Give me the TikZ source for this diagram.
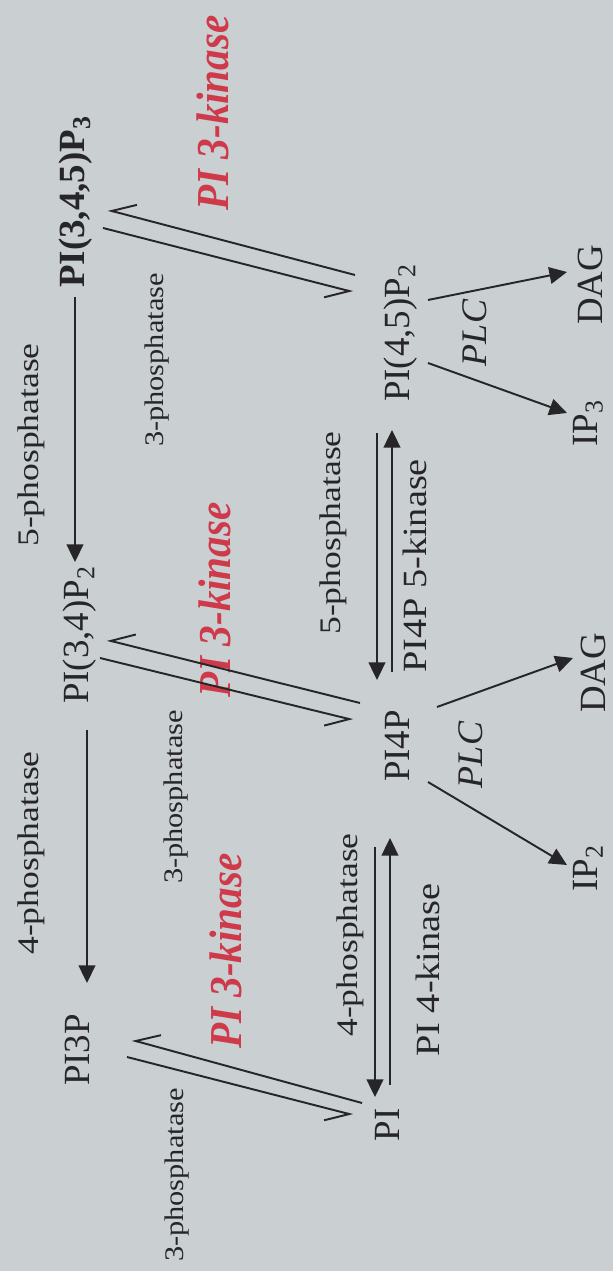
\documentclass[tikz,border=0pt]{standalone}
\usepackage{fontspec}
\setmainfont{Liberation Serif}
\newfontfamily\enzymefont[FakeStretch=1.19]{Liberation Serif}
\newfontfamily\threefont[FakeStretch=1.13]{Liberation Serif}
\newfontfamily\kinasefont[FakeStretch=1.13]{Liberation Serif}
\newfontfamily\pikfont[FakeStretch=0.9]{Liberation Serif}
\usetikzlibrary{arrows.meta,calc}

\definecolor{paper}{RGB}{202,207,210}
\definecolor{ink}{RGB}{38,38,40}
\definecolor{kinasered}{RGB}{206,58,74}

\begin{document}
\begin{tikzpicture}[
    x=0.02cm, y=0.02cm,
    rotate=90, transform shape,
    lipid/.style={
        font=\fontsize{21}{25}\selectfont,
        text=ink,
        inner sep=0pt
    },
    enzyme/.style={
        font=\enzymefont\fontsize{17}{20}\selectfont,
        text=ink,
        inner sep=0pt
    },
    threeph/.style={
        font=\threefont\fontsize{15.3}{18}\selectfont,
        text=ink,
        inner sep=0pt
    },
    kinase/.style={
        font=\kinasefont\fontsize{19.3}{22}\selectfont,
        text=ink,
        inner sep=0pt
    },
    pik/.style={
        font=\pikfont\bfseries\itshape\fontsize{26}{30}\selectfont,
        text=kinasered,
        inner sep=0pt
    },
    plc/.style={
        font=\itshape\fontsize{20.5}{24}\selectfont,
        text=ink,
        inner sep=0pt
    },
    conv/.style={
        -{Triangle[length=10pt,width=9.5pt]},
        draw=ink,
        line width=1.1pt
    },
    equil/.style={
        -{Straight Barb[right,length=13pt,width=14pt]},
        draw=ink,
        line width=1.1pt
    }
]

% background and size of the page
\fill[paper] (0,0) rectangle (1271,613);

% ==================================================
% Lipids
% ==================================================

\node[lipid] (pip3) at (1069,537)
    {\textbf{PI(3,4,5)P\textsubscript{3}}};

\node[lipid] (pi34p2) at (636,533)
    {PI(3,4)P\textsubscript{2}};

\node[lipid] (pi3p) at (221,536)
    {PI3P};

\node[lipid] (pi45p2) at (938,212)
    {PI(4,5)P\textsubscript{2}};

\node[lipid] (pi4p) at (525,216)
    {PI4P};

\node[lipid] (pi) at (146,226)
    {PI};

% products of PLC
\node[lipid] (dagA) at (986,23) {DAG};
\node[lipid] (ipthree) at (848,25) {IP\textsubscript{3}};
\node[lipid] (dagB) at (598,20) {DAG};
\node[lipid] (iptwo) at (403,25) {IP\textsubscript{2}};

% ==================================================
% Enzymes
% ==================================================

\node[enzyme] at (418,582) {4-phosphatase};
\node[enzyme] at (826,582) {5-phosphatase};

\node[threeph] at (911,456) {3-phosphatase};
\node[threeph] at (474,437) {3-phosphatase};
\node[threeph] at (96,436) {3-phosphatase};

\node[pik] at (1158,400) {PI 3-kinase};
\node[pik] at (671,398) {PI 3-kinase};
\node[pik] at (320,387) {PI 3-kinase};

\node[enzyme] at (738,280) {5-phosphatase};
\node[kinase] at (705,198) {PI4P 5-kinase};

\node[enzyme] at (336,263) {4-phosphatase};
\node[kinase] at (301,185) {PI 4-kinase};

\node[plc] at (938,138) {PLC};
\node[plc] at (516,142) {PLC};

% ==================================================
% Phosphatase / kinase steps
% ==================================================

\draw[conv] ($(pip3)+(-95,1)$) -- ($(pi34p2)+(73,5)$);
\draw[conv] ($(pi34p2)+(-95,-7)$) -- ($(pi3p)+(67,-10)$);

\draw[conv] ($(pi45p2)+(-100,24)$) -- ($(pi4p)+(66,20)$);
\draw[conv] ($(pi4p)+(74,5)$) -- ($(pi45p2)+(-97,9)$);

\draw[conv] ($(pi4p)+(-101,22)$) -- ($(pi)+(28,12)$);
\draw[conv] ($(pi)+(40,-3)$) -- ($(pi4p)+(-92,7)$);

% PI 3-kinase / 3-phosphatase pairs
\draw[equil] ($(pi45p2)+(58,46)$) -- ($(pip3)+(-8,-32)$);
\draw[equil] ($(pip3)+(-26,-27)$) -- ($(pi45p2)+(41,48)$);

\draw[equil] ($(pi4p)+(43,37)$) -- ($(pi34p2)+(-5,-27)$);
\draw[equil] ($(pi34p2)+(-23,-20)$) -- ($(pi4p)+(26,44)$);

\draw[equil] ($(pi)+(22,25)$) -- ($(pi3p)+(10,-55)$);
\draw[equil] ($(pi3p)+(-7,-50)$) -- ($(pi)+(10,34)$);

% ==================================================
% PLC cleavage
% ==================================================

\draw[conv] ($(pi45p2)+(33,-27)$) -- ($(dagA)+(13,23)$);
\draw[conv] ($(pi45p2)+(-30,-27)$) -- ($(ipthree)+(10,21)$);

\draw[conv] ($(pi4p)+(39,-40)$) -- ($(dagB)+(15,20)$);
\draw[conv] ($(pi4p)+(-36,-31)$) -- ($(iptwo)+(3,21)$);

\end{tikzpicture}
\end{document}
